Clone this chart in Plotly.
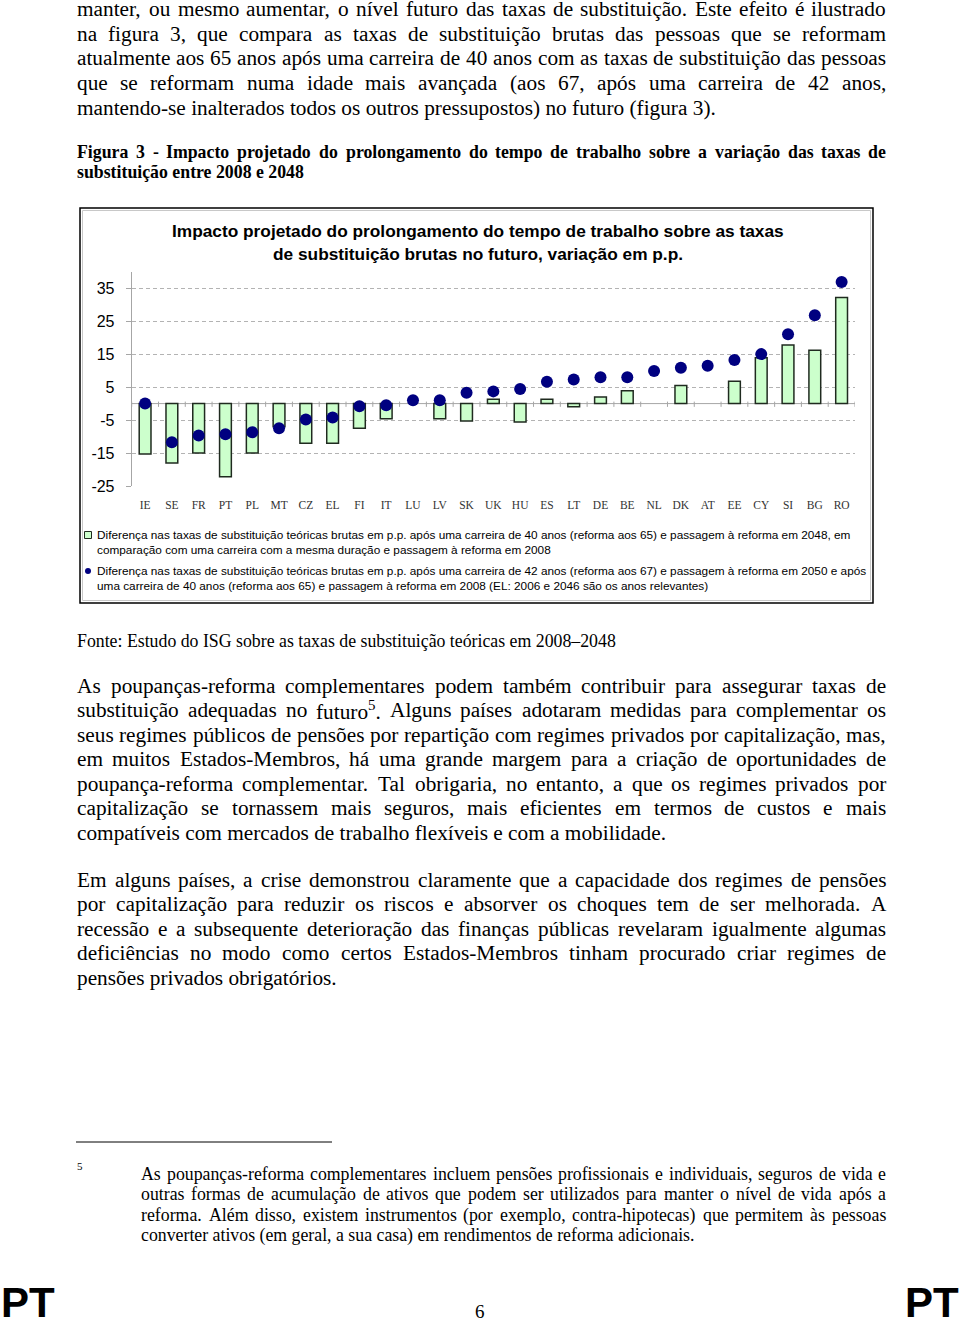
import re
import unicodedata
import plotly.graph_objects as go

# ---------------- data ----------------
countries = ["IE", "SE", "FR", "PT", "PL", "MT", "CZ", "EL", "FI", "IT", "LU", "LV", "SK", "UK",
             "HU", "ES", "LT", "DE", "BE", "NL", "DK", "AT", "EE", "CY", "SI", "BG", "RO"]
career40_change = [-15.3, -18.0, -15.0, -22.2, -15.0, -7.0, -12.0, -12.0, -7.5, -4.6, None, -4.6, -5.3, 1.3,
                   -5.6, 1.3, -1.0, 2.0, 3.9, None, 5.5, None, 6.8, 13.9, 17.8, 16.2, 32.2]
career42_change = [0.0, -11.7, -9.7, -9.3, -8.7, -7.5, -4.8, -4.2, -0.8, -0.5, 1.0, 1.0, 3.3, 3.7,
                   4.4, 6.6, 7.3, 8.0, 8.0, 9.9, 10.9, 11.5, 13.2, 15.0, 21.0, 26.8, 36.9]
y_ticks = [-25, -15, -5, 5, 15, 25, 35]
y_tick_labels = ["-25", "-15", "-5", "5", "15", "25", "35"]

chart_title = ["Impacto projetado do prolongamento do tempo de trabalho sobre as taxas",
               "de substituição brutas no futuro, variação em p.p."]
legend_bar = ["Diferença nas taxas de substituição teóricas brutas em p.p. após uma carreira de 40 anos (reforma aos 65) e passagem à reforma em 2048, em",
              "comparação com uma carreira com a mesma duração e passagem à reforma em 2008"]
legend_dot = ["Diferença nas taxas de substituição teóricas brutas em p.p. após uma carreira de 42 anos (reforma aos 67) e passagem à reforma em 2050 e após",
              "uma carreira de 40 anos (reforma aos 65) e passagem à reforma em 2008 (EL: 2006 e 2046 são os anos relevantes)"]

para1 = ["manter, ou mesmo aumentar, o nível futuro das taxas de substituição. Este efeito é ilustrado",
         "na figura 3, que compara as taxas de substituição brutas das pessoas que se reformam",
         "atualmente aos 65 anos após uma carreira de 40 anos com as taxas de substituição das pessoas",
         "que se reformam numa idade mais avançada (aos 67, após uma carreira de 42 anos,",
         "mantendo-se inalterados todos os outros pressupostos) no futuro (figura 3)."]
caption = ["Figura 3 - Impacto projetado do prolongamento do tempo de trabalho sobre a variação das taxas de",
           "substituição entre 2008 e 2048"]
source = "Fonte: Estudo do ISG sobre as taxas de substituição teóricas em 2008–2048"
para2 = ["As poupanças-reforma complementares podem também contribuir para assegurar taxas de",
         "substituição adequadas no futuro<sup>5</sup>. Alguns países adotaram medidas para complementar os",
         "seus regimes públicos de pensões por repartição com regimes privados por capitalização, mas,",
         "em muitos Estados-Membros, há uma grande margem para a criação de oportunidades de",
         "poupança-reforma complementar. Tal obrigaria, no entanto, a que os regimes privados por",
         "capitalização se tornassem mais seguros, mais eficientes em termos de custos e mais",
         "compatíveis com mercados de trabalho flexíveis e com a mobilidade."]
para3 = ["Em alguns países, a crise demonstrou claramente que a capacidade dos regimes de pensões",
         "por capitalização para reduzir os riscos e absorver os choques tem de ser melhorada. A",
         "recessão e a subsequente deterioração das finanças públicas revelaram igualmente algumas",
         "deficiências no modo como certos Estados-Membros tinham procurado criar regimes de",
         "pensões privados obrigatórios."]
footnote = ["As poupanças-reforma complementares incluem pensões profissionais e individuais, seguros de vida e",
            "outras formas de acumulação de ativos que podem ser utilizados para manter o nível de vida após a",
            "reforma. Além disso, existem instrumentos (por exemplo, contra-hipotecas) que permitem às pessoas",
            "converter ativos (em geral, a sua casa) em rendimentos de reforma adicionais."]

# ---------------- helpers ----------------
W, H = 960, 1320          # page coordinate system used for placement
FIG_H = 1329              # rendered figure height (viewport is slightly taller than the photo)


def px(x):
    return x / W


def py(y):
    return 1 - y / H


LOW = "abcdefghijklmnopqrstuvwxyz"
UP = "ABCDEFGHIJKLMNOPQRSTUVWXYZ"
TIMES_R = dict(zip(LOW, [444, 500, 444, 500, 444, 333, 500, 500, 278, 278, 500, 278, 778, 500, 500, 500, 500,
                         333, 389, 278, 500, 500, 722, 500, 500, 444]))
TIMES_R.update(zip(UP, [722, 667, 667, 722, 611, 556, 722, 722, 333, 389, 722, 611, 889, 722, 722, 556, 722,
                        667, 556, 611, 722, 722, 944, 722, 722, 611]))
TIMES_R.update({" ": 250, ".": 250, ",": 250, ":": 278, ";": 278, "-": 333, "(": 333, ")": 333, "–": 500})
TIMES_B = dict(zip(LOW, [500, 556, 444, 556, 444, 333, 500, 556, 278, 333, 556, 278, 833, 556, 500, 556, 556,
                         444, 389, 333, 556, 500, 722, 500, 500, 444]))
TIMES_B.update(zip(UP, [722, 667, 722, 722, 667, 611, 778, 778, 389, 500, 778, 667, 944, 722, 778, 611, 778,
                        722, 556, 667, 722, 722, 1000, 722, 722, 667]))
TIMES_B.update({" ": 250, ".": 250, ",": 250, ":": 333, ";": 333, "-": 333, "(": 333, ")": 333, "–": 500})


def text_width(s, fs, bold=False):
    table = TIMES_B if bold else TIMES_R
    s = re.sub(r"<sup>(.*?)</sup>", lambda m: "\u0001" * len(m.group(1)), s)
    total = 0
    for ch in s:
        if ch == "\u0001":
            total += 330
            continue
        base = unicodedata.normalize("NFD", ch)[0]
        total += table.get(base, 500)
    return total * fs / 1000


annotations = []


def add_text(text, x, y, fs, family="Liberation Serif", bold=False, xanchor="left", color="#000"):
    annotations.append(dict(text=("<b>%s</b>" % text) if bold else text, x=px(x), y=py(y),
                            xref="paper", yref="paper", xanchor=xanchor, yanchor="middle",
                            showarrow=False, borderpad=0,
                            font=dict(family=family, size=fs, color=color)))


def add_line(text, y, x0, x1, fs, bold=False, justify=True):
    words = text.split(" ")
    if not justify or len(words) == 1:
        add_text(text, x0, y, fs, bold=bold)
        return
    ws = [text_width(w, fs, bold) for w in words]
    gap = (x1 - x0 - sum(ws)) / (len(words) - 1)
    x = x0
    for w, wd in zip(words, ws):
        add_text(w, x, y, fs, bold=bold)
        x += wd + gap


def add_paragraph(lines, ys, x0, x1, fs, bold=False, last_justified=False):
    for i, (line, y) in enumerate(zip(lines, ys)):
        is_last = i == len(lines) - 1
        add_line(line, y, x0, x1, fs, bold=bold, justify=(not is_last) or last_justified)


BODY = 21.3
L, R = 76, 885

add_paragraph(para1, [9, 34, 58, 83, 108], L, R, BODY)
add_paragraph(caption, [152, 172], L, R, 17.8, bold=True)
add_text(source, L, 641, 17.8)
add_paragraph(para2, [686, 710, 735, 759, 784, 808, 833], L, R, BODY)
add_paragraph(para3, [880, 904, 929, 953, 978], L, R, BODY)
add_text("5", L, 1166, 11)
add_paragraph(footnote, [1174, 1194, 1215, 1235], 140, R, 17.8)
add_text("6", 480, 1311, 19, xanchor="center")
add_text("<b>PT</b>", 0, 1302, 42, family="Liberation Sans")
add_text("<b>PT</b>", 960, 1302, 42, family="Liberation Sans", xanchor="right")

# chart title
add_text(chart_title[0], 477.5, 231, 17.3, family="Liberation Sans", bold=True, xanchor="center")
add_text(chart_title[1], 478, 254, 17.3, family="Liberation Sans", bold=True, xanchor="center")

# legend texts
LEG = 11.8
add_text(legend_bar[0], 96, 535, LEG, family="Liberation Sans")
add_text(legend_bar[1], 96, 550, LEG, family="Liberation Sans")
add_text(legend_dot[0], 96, 571, LEG, family="Liberation Sans")
add_text(legend_dot[1], 96, 586, LEG, family="Liberation Sans")

# ---------------- figure ----------------
BAR_FILL = "#ccffcc"
BAR_EDGE = "#1f2a1f"
DOT = "#000080"
AXIS_GREY = "#a6a6a6"

fig = go.Figure()
fig.add_bar(x=countries, y=career40_change, width=0.44,
            marker=dict(color=BAR_FILL, line=dict(color=BAR_EDGE, width=1.5)),
            name=legend_bar[0], showlegend=False)
fig.add_scatter(x=countries, y=career42_change, mode="markers",
                marker=dict(color=DOT, size=12, line=dict(width=0)),
                name=legend_dot[0], showlegend=False)

shapes = []
# zero line with category-boundary ticks
shapes.append(dict(type="line", xref="x", yref="y", x0=-0.5, x1=len(countries) - 0.5, y0=0, y1=0,
                   line=dict(color=AXIS_GREY, width=1), layer="below"))
for i in range(len(countries) + 1):
    shapes.append(dict(type="line", xref="x", yref="y", x0=i - 0.5, x1=i - 0.5, y0=-1.0, y1=0.6,
                       line=dict(color=AXIS_GREY, width=1), layer="below"))

# outer chart frame (black with light inner line)
shapes.append(dict(type="rect", xref="paper", yref="paper", x0=px(80), x1=px(873), y0=py(603), y1=py(208),
                   line=dict(color="#000", width=1.5)))
shapes.append(dict(type="rect", xref="paper", yref="paper", x0=px(82.5), x1=px(870.5), y0=py(600.5), y1=py(210.5),
                   line=dict(color="#c8c8c8", width=1)))

# legend symbols
shapes.append(dict(type="rect", xref="paper", yref="paper", x0=px(84.5), x1=px(91.5), y0=py(538.5), y1=py(531.5),
                   fillcolor=BAR_FILL, line=dict(color=BAR_EDGE, width=1)))
shapes.append(dict(type="circle", xref="paper", yref="paper", x0=px(85), x1=px(91), y0=py(574), y1=py(568),
                   fillcolor=DOT, line=dict(color=DOT, width=0)))
# footnote separator
shapes.append(dict(type="line", xref="paper", yref="paper", x0=px(76), x1=px(332), y0=py(1142), y1=py(1142),
                   line=dict(color="#000", width=1)))

fig.update_layout(
    width=W, height=FIG_H,
    margin=dict(l=0, r=0, t=0, b=0),
    paper_bgcolor="white", plot_bgcolor="white",
    showlegend=False,
    hovermode=False,
    bargap=0.56,
    xaxis=dict(domain=[px(131.7), px(855)], range=[-0.5, len(countries) - 0.5], type="category",
               showgrid=False, showline=False, zeroline=False, ticks="",
               tickfont=dict(family="Liberation Serif", size=11.5, color="#333"),
               ticklabelstandoff=10),
    yaxis=dict(domain=[py(486), py(271.7)], range=[-25, 40], tickvals=y_ticks, ticktext=y_tick_labels,
               showgrid=True, gridcolor="#b3b3b3", gridwidth=1, griddash="4px,3px",
               showline=True, linecolor=AXIS_GREY, linewidth=1,
               ticks="outside", ticklen=5, tickcolor=AXIS_GREY,
               zeroline=False,
               tickfont=dict(family="Liberation Sans", size=16, color="#000"),
               ticklabelstandoff=8),
    shapes=shapes,
    annotations=annotations,
)

page_fix = (
    "var gd=document.getElementById('{plot_id}');"
    "gd.style.position='fixed';gd.style.left='0px';gd.style.top='0px';"
    "document.body.style.margin='0px';document.body.style.overflow='hidden';"
    "document.documentElement.style.overflow='hidden';"
)
fig.write_html("out.html", config={"displayModeBar": False}, post_script=page_fix)
